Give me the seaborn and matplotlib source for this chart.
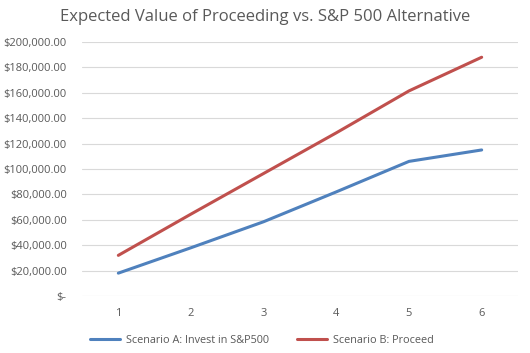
import pandas as pd
import matplotlib.pyplot as plt
import matplotlib.ticker as mticker
import seaborn as sns

#%% data

years = [1, 2, 3, 4, 5, 6]
scenario_a = [18000, 38000, 58500, 82000, 106000, 115000]
scenario_b = [32000, 64500, 96500, 128500, 161500, 188000]
series_names = ['Scenario A: Invest in S&P500', 'Scenario B: Proceed']

df = pd.concat([
    pd.DataFrame({'year': years, 'value': scenario_a, 'scenario': series_names[0]}),
    pd.DataFrame({'year': years, 'value': scenario_b, 'scenario': series_names[1]}),
])

#%% plot

sns.set_style("white")
plt.rcParams['font.family'] = ['Open Sans', 'DejaVu Sans']
grey = '#595959'

fig = plt.figure(figsize=(5.3, 3.53), dpi=100)
ax = fig.add_axes([82/530, 1-296/353, 436/530, 254/353])

sns.lineplot(data=df, x='year', y='value', hue='scenario',
             palette=['#4F81BD', '#C0504D'], linewidth=2.2, ax=ax)

ax.set_xlim(0.5, 6.5)
ax.set_ylim(0, 200000)
ax.set_xticks(years)
ax.set_yticks(range(0, 200001, 20000))
ax.yaxis.set_major_formatter(mticker.FuncFormatter(
    lambda v, p: '$-' if v == 0 else '${:,.2f}'.format(v)))
ax.grid(axis='y', color='#D9D9D9', linewidth=0.8)
ax.set_axisbelow(True)
for s in ax.spines.values():
    s.set_visible(False)
ax.tick_params(length=0, labelsize=8, colors=grey)
ax.tick_params(axis='y', pad=11)
ax.tick_params(axis='x', pad=9)
ax.set_xlabel('')
ax.set_ylabel('')

ax.legend(loc='upper center', bbox_to_anchor=(0.413, -0.115), ncol=2, frameon=False,
          fontsize=7.8, labelcolor=grey, handlelength=2.7, handletextpad=0.6,
          columnspacing=2.6)

fig.suptitle('Expected Value of Proceeding vs. S&P 500 Alternative',
             y=1-17/353, va='center', fontsize=12, color=grey)

fig.savefig('out.png', dpi=100)
